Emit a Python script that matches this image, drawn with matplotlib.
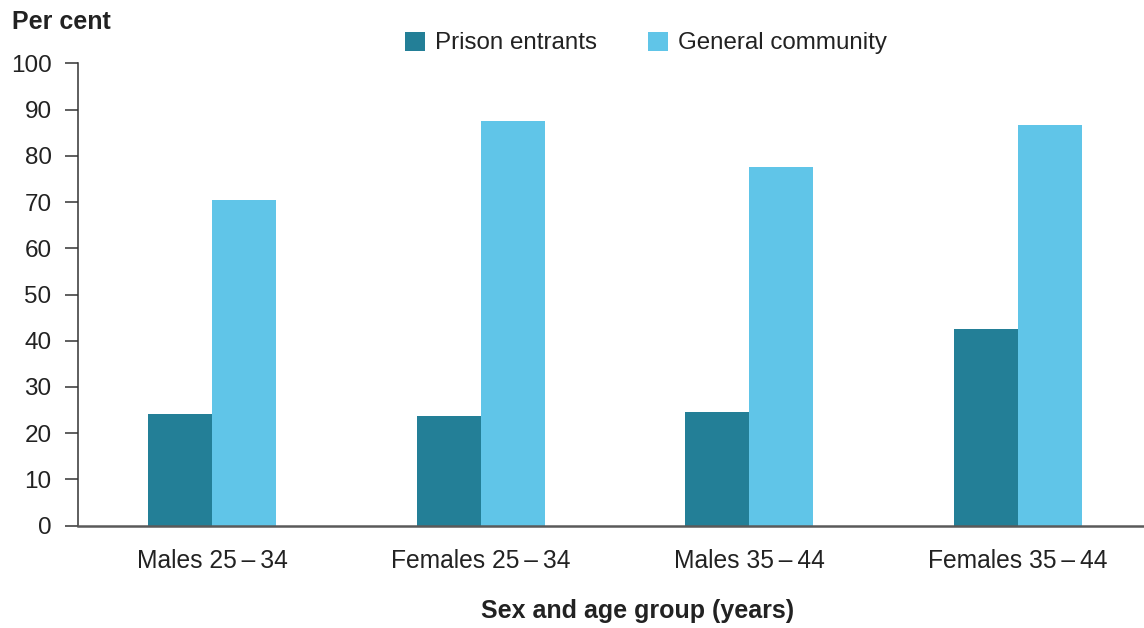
import matplotlib.pyplot as plt
import numpy as np

plt.rcParams['font.family'] = ['Liberation Sans', 'DejaVu Sans']

groups = ['Males 25\u2009\u2013\u200934', 'Females 25\u2009\u2013\u200934',
          'Males 35\u2009\u2013\u200944', 'Females 35\u2009\u2013\u200944']
prison = [24.1, 23.7, 24.5, 42.5]
general = [70.4, 87.5, 77.6, 86.7]
yticks = [0, 10, 20, 30, 40, 50, 60, 70, 80, 90, 100]

c_prison = '#237F97'
c_general = '#60C5E8'

fig = plt.figure(figsize=(11.44, 6.28), dpi=100)
ax = fig.add_axes([78/1144, 1 - 525.7/628, 1 - 78/1144, (525.7 - 63.3)/628])

x = np.arange(len(groups))
w = 0.238
ax.bar(x - w/2, prison, w, color=c_prison, label='Prison entrants')
ax.bar(x + w/2, general, w, color=c_general, label='General community')

ax.set_xlim(-0.5, 3.47)
ax.set_ylim(0, 100)
ax.set_yticks(yticks)
ax.set_xticks(x)
ax.set_xticklabels(groups, fontsize=17.7, color='#222222')
ax.tick_params(axis='x', length=0, pad=17)
ax.tick_params(axis='y', length=9.5, width=1.1, color='#333333', pad=9.5,
               labelsize=17.5, labelcolor='#222222')

for s in ['top', 'right']:
    ax.spines[s].set_visible(False)
ax.spines['left'].set_color('#333333')
ax.spines['left'].set_linewidth(1.1)
ax.spines['bottom'].set_color('#5a5a5a')
ax.spines['bottom'].set_linewidth(1.8)

fig.text(12/1144, 1 - 22/628, 'Per cent', fontsize=18, fontweight='bold',
         va='center', ha='left', color='#222222')
fig.text(638/1144, 1 - 611/628, 'Sex and age group (years)', fontsize=18,
         fontweight='bold', va='center', ha='center', color='#222222')

ax.legend(loc='center', bbox_to_anchor=(646/1144, 1 - 43/628),
          bbox_transform=fig.transFigure, ncol=2, frameon=False,
          fontsize=17.4, handlelength=0.83, handleheight=0.83,
          handletextpad=0.4, columnspacing=2.1, labelcolor='#222222')

fig.savefig('out.png', dpi=100)
